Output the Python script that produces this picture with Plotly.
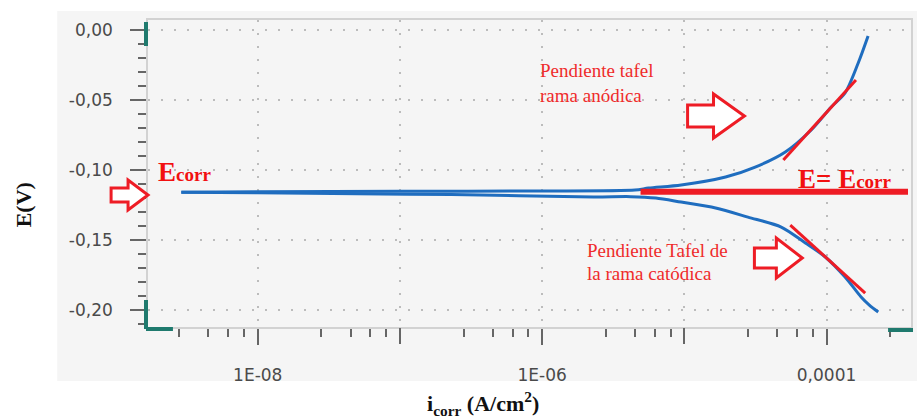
import plotly.graph_objects as go

# Potentiodynamic polarization scan (current density in A/cm2, potential in V)
cathodic_i = [2.31e-4, 2.0e-4, 1.75e-4, 1.35e-4, 9.8e-5, 7.1e-5, 4.8e-5, 2.8e-5,
              1.66e-5, 9.5e-6, 6.3e-6, 4.2e-6, 2.3e-6, 2.3e-7, 5.0e-8, 1.0e-8, 2.9e-9]
cathodic_e = [-0.2014, -0.1965, -0.1907, -0.1764, -0.1621, -0.1521, -0.1407, -0.1336,
              -0.1271, -0.1229, -0.1200, -0.1190, -0.1192, -0.1175, -0.1170, -0.1163, -0.1158]

anodic_i = [2.9e-9, 1.0e-8, 1.0e-7, 1.0e-6, 4.5e-6, 5.6e-6, 9.5e-6, 1.95e-5,
            3.15e-5, 5.13e-5, 7.8e-5, 1.08e-4, 1.35e-4, 1.67e-4, 1.96e-4]
anodic_e = [-0.1158, -0.1155, -0.1152, -0.1150, -0.1143, -0.1129, -0.1107, -0.1050,
            -0.0979, -0.0871, -0.0714, -0.0550, -0.0450, -0.0236, -0.0043]

# Tafel fits and corrosion potential
tafel_anodic_i = [4.97e-5, 1.61e-4]
tafel_anodic_e = [-0.0929, -0.0357]
tafel_cathodic_i = [5.56e-5, 1.87e-4]
tafel_cathodic_e = [-0.1393, -0.1879]
ecorr_line_i = [4.92e-6, 3.74e-4]
e_corr = -0.1155

# Axis ticks
x_label_vals = [1e-8, 1e-6, 1e-4]
x_label_text = ["1E-08", "1E-06", "0,0001"]
x_unlabelled_vals = [1e-7, 1e-5]
y_tickvals = [0.0, -0.05, -0.10, -0.15, -0.20]
y_ticktext = ["0,00", "-0,05", "-0,10", "-0,15", "-0,20"]
x_minor_mult = [2.8, 4.5, 6.2, 8.0]
x_minor_decades = [1e-9, 1e-8, 1e-7, 1e-6, 1e-5, 1e-4]

W, H = 920, 420
L, R, T, B = 148, 913, 20, 327
X_RANGE = [-8.772, -3.406]


def px(x):
    return (x - L) / (R - L)


def py(y):
    return (B - y) / (B - T)


BLUE = "#1f6dbf"
RED = "#ee1c25"
TEAL = "#1f7a6e"
GRID = "#bcbcbc"
TICK = "#666666"

fig = go.Figure()
fig.add_trace(go.Scatter(
    x=cathodic_i, y=cathodic_e, mode="lines",
    line=dict(color=BLUE, width=3, shape="spline", smoothing=0.8),
    hoverinfo="skip", showlegend=False))
fig.add_trace(go.Scatter(
    x=anodic_i, y=anodic_e, mode="lines",
    line=dict(color=BLUE, width=3, shape="spline", smoothing=0.8),
    hoverinfo="skip", showlegend=False))
fig.add_trace(go.Scatter(
    x=ecorr_line_i, y=[e_corr, e_corr], mode="lines", xaxis="x2",
    line=dict(color=RED, width=6), hoverinfo="skip", showlegend=False))
fig.add_trace(go.Scatter(
    x=tafel_anodic_i, y=tafel_anodic_e, mode="lines",
    line=dict(color=RED, width=3), hoverinfo="skip", showlegend=False))
fig.add_trace(go.Scatter(
    x=tafel_cathodic_i, y=tafel_cathodic_e, mode="lines",
    line=dict(color=RED, width=3), hoverinfo="skip", showlegend=False))

shapes = []
# light panel behind the chart
shapes.append(dict(type="rect", xref="paper", yref="paper", layer="below",
                   x0=px(57), x1=px(919), y0=py(381), y1=py(11),
                   fillcolor="#f5f5f5", line=dict(width=0)))
# teal range handles on the axes
for x0, y0, x1, y1 in [(146, 22, 146, 46), (146, 300, 146, 329),
                       (146, 329, 173, 329), (890, 330, 915, 330)]:
    shapes.append(dict(type="line", xref="paper", yref="paper",
                       x0=px(x0), y0=py(y0), x1=px(x1), y1=py(y1),
                       line=dict(color=TEAL, width=4)))


def block_arrow(x0, xn, x1, yc, h, s):
    pts = [(x0, yc - s), (xn, yc - s), (xn, yc - h), (x1, yc),
           (xn, yc + h), (xn, yc + s), (x0, yc + s)]
    path = "M " + " L ".join(f"{px(a):.5f},{py(b):.5f}" for a, b in pts) + " Z"
    return dict(type="path", xref="paper", yref="paper", path=path,
                fillcolor="white", line=dict(color=RED, width=3))


shapes.append(block_arrow(111, 128, 148, 195, 15, 7))
shapes.append(block_arrow(689, 715, 746, 116, 22, 11))
shapes.append(block_arrow(756, 778, 804, 258, 20, 10))

SERIF = "Liberation Serif"
TXT_RED = "#ef2b2b"
annotations = []


def note(text, x, y, size, color, bold=False, xanchor="left", yanchor="middle", angle=0):
    annotations.append(dict(
        text=f"<b>{text}</b>" if bold else text, xref="paper", yref="paper",
        x=px(x), y=py(y), xanchor=xanchor, yanchor=yanchor, showarrow=False,
        textangle=angle, font=dict(family=SERIF, size=size, color=color)))


note("Pendiente tafel", 539, 71, 19, TXT_RED)
note("rama anódica", 539, 95, 19, TXT_RED)
note("Pendiente Tafel de", 586, 250, 19, TXT_RED)
note("la rama catódica", 586, 273, 19, TXT_RED)
note("E<span style='font-size:19px'>corr</span>", 156, 172, 27, "#f21010", bold=True)
note("E= E<span style='font-size:19px'>corr</span>", 798, 179, 27, "#f21010", bold=True)
note("E(V)", 23, 205, 22, "#111111", bold=True, xanchor="center", angle=-90)
note("i<sub>corr</sub> (A/cm<sup>2</sup>)", 484, 403, 22, "#111111", bold=True,
     xanchor="center")

x_minor_vals = [m * d for d in x_minor_decades for m in x_minor_mult]

tick_font = dict(family="DejaVu Sans", size=17, color="#4a4a4a")
grid = dict(showgrid=True, gridcolor=GRID, gridwidth=2, griddash="2px,11px")
fig.update_layout(
    width=W, height=H,
    margin=dict(l=L, r=W - R, t=T, b=H - B, pad=0),
    paper_bgcolor="white", plot_bgcolor="white",
    shapes=shapes, annotations=annotations,
    xaxis=dict(
        type="log", range=X_RANGE,
        tickmode="array", tickvals=x_label_vals, ticktext=x_label_text,
        ticks="outside", ticklen=16, tickwidth=1.5, tickcolor=TICK,
        ticklabelstandoff=16, tickfont=tick_font, **grid,
        showline=True, linecolor="#d2d2d2", linewidth=1.5, mirror=True,
        zeroline=False,
        minor=dict(tickmode="array", tickvals=x_minor_vals, ticks="outside",
                   ticklen=8, tickwidth=1.5, tickcolor=TICK, showgrid=False),
    ),
    xaxis2=dict(
        type="log", range=X_RANGE, overlaying="x", side="bottom",
        tickmode="array", tickvals=x_unlabelled_vals, showticklabels=False,
        ticks="outside", ticklen=16, tickwidth=1.5, tickcolor=TICK, **grid,
        showline=False, zeroline=False,
    ),
    yaxis=dict(
        range=[-0.2121, 0.00714],
        tickmode="array", tickvals=y_tickvals, ticktext=y_ticktext,
        ticks="outside", ticklen=16, tickwidth=1.5, tickcolor=TICK,
        ticklabelstandoff=14, tickfont=tick_font, **grid,
        showline=True, linecolor="#d2d2d2", linewidth=1.5, mirror=True,
        zeroline=False,
        minor=dict(dtick=0.01, tick0=0, ticks="outside", ticklen=8,
                   tickwidth=1.5, tickcolor=TICK, showgrid=False),
    ),
)

fig.write_html("out.html", config={"displayModeBar": False})
